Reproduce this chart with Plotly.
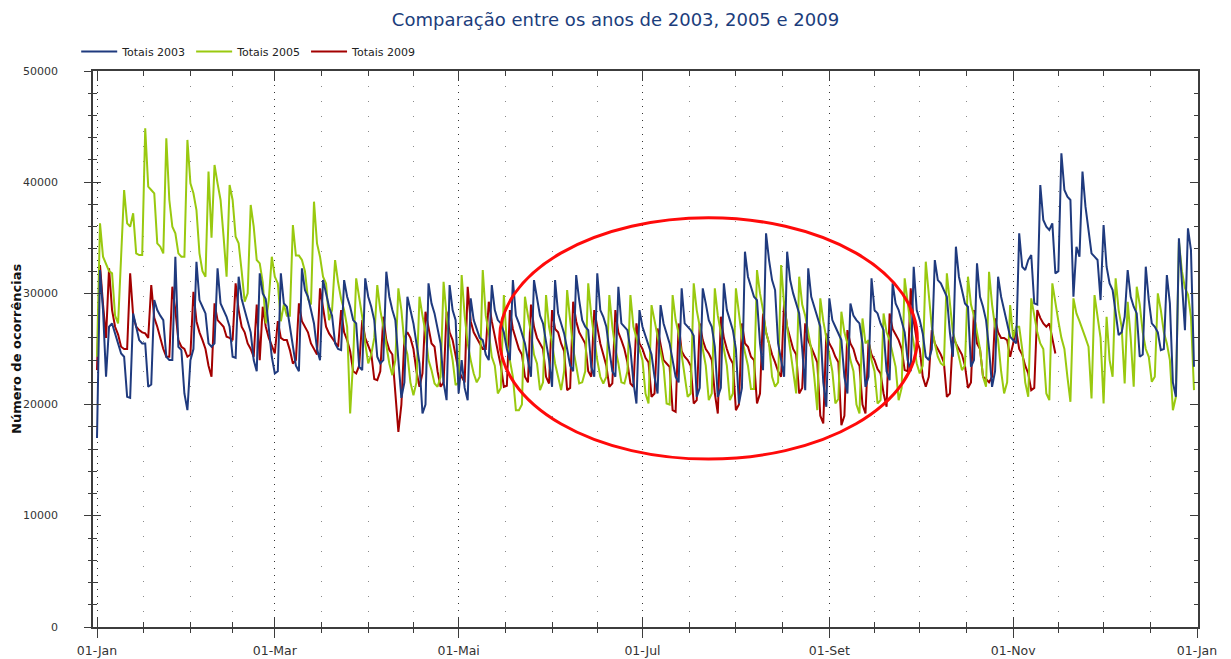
import plotly.graph_objects as go

# ---------------- data (daily totals) ----------------
rotulos_meses = ["01-Jan", "01-Mar", "01-Mai", "01-Jul", "01-Set", "01-Nov", "01-Jan"]
dias_por_mes = [31, 28, 31, 30, 31, 30, 31, 31, 30, 31, 30, 31]
y_ticks = [0, 10000, 20000, 30000, 40000, 50000]
y_rotulos = ["0", "10000", "20000", "30000", "40000", "50000"]

totais_2003 = [
    17000, 32100, 28500, 22500, 27000,
    27300, 26400, 25500, 24600, 24300, 20700, 20600,
    28200, 27000, 25800, 25500, 25500, 21600, 21800,
    29400, 28500, 28000, 27600, 24300, 24000, 24000,
    33300, 25200, 24900, 21000, 19500, 24000, 25000,
    32850, 29400, 28800, 28200, 25500, 25200, 25500,
    32250, 29100, 28500, 27900, 27000, 24300, 24200,
    31500, 29500, 28500, 27500, 26500, 24000, 23000,
    31800, 30000, 29500, 27000, 24300, 22800, 23000,
    31800, 29100, 28800, 27000, 25500, 23500, 23000,
    32250, 30300, 29700, 28500, 27300, 25000, 24000,
    31200, 30000, 28800, 28000, 25500, 25000, 24900,
    31200, 29700, 28800, 27600, 27300, 23400, 23100,
    31350, 29700, 28800, 27600, 24300, 23700, 24000,
    31950, 29700, 28500, 27600, 24000, 20600, 22000,
    29700, 28500, 27300, 25500, 23700, 19200, 20000,
    30900, 29100, 28200, 26700, 25500, 22000, 20400,
    30750, 28500, 27600, 21000, 24000, 21500, 20400,
    29550, 27600, 26700, 26000, 25800, 24500, 24000,
    30750, 28500, 27600, 27300, 26500, 25000, 24000,
    31200, 28000, 27300, 26400, 25500, 24000, 22500,
    31200, 29400, 28000, 27300, 25800, 24000, 21600,
    31200, 28200, 27300, 26400, 25000, 23500, 23000,
    31650, 29400, 27600, 27000, 26700, 23400, 22500,
    31800, 28500, 27900, 27000, 24900, 23000, 22500,
    30600, 27300, 27000, 26700, 25000, 22000, 20100,
    28500, 27000, 26100, 25200, 24500, 22500, 21000,
    28950, 27300, 26400, 25500, 24000, 22500, 22000,
    30450, 27300, 27000, 26700, 26200, 20700, 21500,
    30450, 29100, 27600, 27000, 25200, 20700, 21500,
    30900, 28500, 27600, 26700, 25000, 20100, 21500,
    33750, 31500, 30600, 29700, 29400, 25500, 23100,
    35400, 33000, 31200, 30300, 25500, 24000, 22500,
    33750, 31200, 30000, 29100, 28200, 25000, 21300,
    32250, 29700, 28800, 27900, 27000, 22000, 19800,
    29550, 27600, 27000, 26400, 25800, 22500, 21000,
    29100, 28000, 27600, 27300, 25500, 21600, 22500,
    31350, 28500, 28200, 27300, 26700, 23000, 22200,
    30900, 29100, 28500, 27600, 26500, 24000, 23000,
    32400, 28500, 27600, 26400, 24300, 24000, 25000,
    33000, 31200, 30900, 30300, 29700, 26500, 24300,
    34200, 31500, 30300, 29100, 28800, 23400, 24000,
    32700, 29700, 28800, 27600, 25000, 21600, 23000,
    31500, 29700, 28500, 27300, 26100, 25800, 25500,
    35400, 32400, 32100, 33000, 33450, 29100, 29000,
    39750, 36600, 36000, 35700, 36300, 31800, 32000,
    42600, 39300, 38700, 38400, 29700, 34200, 33300,
    40950, 37800, 35500, 33600, 33300, 33000, 29400,
    36150, 32400, 30900, 30300, 28500, 26250, 26500,
    27900, 32100, 29700, 28800, 28200, 24300, 24500,
    32400, 29400, 27300, 27000, 26500, 24900, 25000,
    31650, 29100, 22000, 20700, 34950, 31000, 26700,
    35850, 33900, 23400,
]

totais_2005 = [
    24300, 36300,
    33300, 32700, 32000, 31800, 28000, 27300, 33600,
    39300, 36300, 36000, 37200, 33600, 33450, 33450,
    44850, 39600, 39300, 39000, 34500, 34200, 33600,
    43950, 38400, 36000, 35400, 33600, 33300, 33300,
    43800, 39900, 39000, 37500, 33600, 32000, 31500,
    40950, 35000, 41550, 39900, 38400, 35100, 31500,
    39750, 38400, 35100, 34500, 32000, 29250, 30000,
    37950, 36000, 33000, 32700, 31000, 27300, 29400,
    33300, 31500, 30900, 27500, 29000, 28000, 28000,
    36150, 33400, 33400, 33000, 32000, 29500, 29000,
    38250, 34500, 33300, 31500, 30900, 27600, 28500,
    33000, 31000, 29500, 28500, 27000, 19200, 24000,
    31350, 29700, 27900, 25500, 23700, 24500, 26000,
    30750, 28500, 27000, 25500, 23700, 22650, 24000,
    30450, 28500, 25500, 24500, 22000, 20850, 22000,
    29700, 28000, 26500, 24000, 23100, 21900, 21600,
    22500, 31050, 28000, 25500, 24000, 21750, 22000,
    31650, 28000, 25500, 24000, 22800, 22000, 22500,
    32100, 28000, 26500, 24300, 23500, 21000, 21500,
    29850, 25500, 24000, 22500, 19500, 19500, 20000,
    29700, 28000, 26500, 24500, 23700, 21300, 22000,
    29850, 27000, 25500, 23700, 22500, 21300, 23000,
    30300, 27600, 25000, 23500, 21900, 22000, 23000,
    30900, 28000, 26000, 24000, 22500, 21900, 22500,
    29850, 27000, 25000, 23700, 22000, 21900, 23000,
    29850, 27000, 26000, 25000, 24000, 21000, 20100,
    28950, 27500, 26000, 24500, 23400, 20100, 20000,
    29850, 27600, 26400, 24500, 23000, 20700, 21000,
    30900, 28500, 27000, 25000, 23500, 20400, 21000,
    30450, 28000, 26500, 25000, 23500, 20400, 21000,
    30450, 28000, 26000, 24700, 23500, 21400, 21400,
    32100, 30000, 28500, 26500, 25500, 22500, 21600,
    22000, 32550, 29000, 27000, 25000, 23500, 21000,
    31500, 29000, 28000, 26500, 25000, 22500, 19500,
    29550, 27500, 26000, 24500, 23000, 20100, 20500,
    28350, 26500, 25500, 24000, 23000, 20000, 19200,
    27750, 25500, 25800, 24000, 23000, 20100, 20400,
    28200, 26500, 25800, 24500, 23400, 20400, 21500,
    31350, 29000, 27000, 25500, 23700, 22800, 23500,
    32850, 30000, 27000, 25500, 24300, 23700, 23500,
    31800, 29000, 26500, 25500, 24300, 23100, 23500,
    31500, 29000, 28000, 26500, 25000, 22500, 21600,
    31950, 29000, 27000, 25800, 23000, 21000, 22000,
    28950, 26000, 27000, 27000, 25000, 22000, 20700,
    29550, 28000, 26500, 25500, 25000, 21000, 20400,
    30900, 29000, 27500, 26000, 25000, 22500, 20250,
    29550, 28200, 27500, 26800, 26000, 25200, 20550,
    29850, 28000, 26000, 20100, 27900, 24000, 22500,
    31350, 28500, 27000, 21900, 29250, 26000, 21600,
    30600, 29000, 26500, 25000, 24300, 22050, 22500,
    30000, 28500, 26500, 25500, 24000, 19500, 20700,
    34650, 32000, 30500, 29900, 27900, 21300,
]

totais_2009 = [
    23100, 32550, 29000, 26000,
    32250, 28500, 27000, 26300, 25200, 25000, 25000,
    31800, 28000, 27000, 26700, 26500, 26400, 26000,
    30750, 27800, 27000, 26000, 25000, 24300, 24300,
    30600, 28500, 25800, 25200, 25000, 24300, 24500,
    30150, 27500, 26500, 25800, 25000, 23500, 22500,
    29100, 27600, 27300, 27000, 26100, 26000, 25800,
    30900, 28500, 27000, 26500, 25500, 25000, 24300,
    29000, 24000, 28800, 27000, 26000, 25200, 24600,
    27500, 26000, 25800, 25800, 24900, 23700, 24000,
    29100, 27500, 27000, 26500, 25500, 25000, 24500,
    30450, 28500, 27000, 26400, 26000, 25600, 25200,
    28500, 26500, 25800, 24800, 23000, 22800, 23500,
    27600, 26000, 25200, 24600, 22300, 22200, 23000,
    27900, 25800, 24900, 24500, 21000, 17550, 20000,
    26000, 26500, 26000, 25000, 23000, 21600, 22800,
    28350, 27000, 25500, 25200, 23000, 21600, 22000,
    28350, 26500, 25800, 24500, 23000, 22500, 22000,
    30600, 27500, 26500, 26000, 25500, 25000, 25000,
    29250, 27500, 26000, 24800, 23500, 21600, 21700,
    28500, 26800, 26000, 25000, 24500, 22500, 22000,
    29000, 27000, 26000, 25500, 25000, 22500, 21900,
    28500, 26800, 26500, 25500, 24800, 21300, 21500,
    29250, 27500, 26500, 26000, 25500, 23000, 22500,
    28500, 27000, 25500, 24500, 23500, 21600, 21900,
    28500, 26500, 25800, 25000, 23800, 21900, 21600,
    27300, 25500, 25000, 24200, 23800, 20700, 21000,
    26850, 25500, 24000, 23700, 23400, 19500, 19350,
    27300, 24800, 24300, 24000, 23500, 20100, 20400,
    27300, 25800, 25000, 24600, 24000, 21000, 19200,
    27900, 26000, 25000, 24200, 23700, 19500, 20000,
    27300, 25500, 25200, 24300, 24000, 20100, 21000,
    28200, 26500, 25500, 24500, 23800, 23000, 22500,
    29250, 27000, 26000, 25000, 24500, 21000, 21500,
    27300, 25800, 25200, 24500, 23800, 19000, 18300,
    26400, 25500, 25000, 24300, 23800, 18150, 19000,
    26700, 25500, 25000, 24000, 23500, 20000, 19200,
    25650, 24500, 24000, 23200, 22800, 21000, 19800,
    28200, 26800, 26300, 25800, 25000, 23100, 23000,
    30450, 27500, 25800, 25000, 22500, 21600, 22500,
    26700, 25500, 25000, 24500, 23800, 20700, 21000,
    26100, 25500, 25000, 24500, 23500, 21500, 22000,
    28500, 25500, 25000, 22500, 22300, 22000, 22500,
    27750, 26500, 26000, 26000, 25800, 24300, 25500,
    26700, 25000, 24500, 23500, 22800, 21300, 21500,
    28500, 27800, 27300, 27000, 27300, 26000, 24600,
]

series = [
    ("Totais 2003", totais_2003, "#1f3a7e"),
    ("Totais 2005", totais_2005, "#99c90f"),
    ("Totais 2009", totais_2009, "#a30000"),
]

# ---------------- axis helpers (positions derived from the calendar) ----------------
inicio_mes = [0]
for n in dias_por_mes:
    inicio_mes.append(inicio_mes[-1] + n)
ticks_maiores = inicio_mes[0::2]
meios = [(a + b) / 2 for a, b in zip(inicio_mes[:-1], inicio_mes[1:])]
ticks_menores = sorted(inicio_mes[1::2] + meios)

PLOT_L, PLOT_R, PLOT_T, PLOT_B = 93, 1198, 71, 627
W, H = 1231, 659
px_por_dia = 1100 / 365.0
x_range = [-4 / px_por_dia, 365 + 1 / px_por_dia]
y_range = [0, 50000]

FONT = "DejaVu Sans"
AXC = "#3c3c3c"
YTICKFONT = dict(family=FONT, size=11, color="#333333")

fig = go.Figure()
# draw 2009 first, 2003 last (on top)
for nome, vals, cor in reversed(series):
    fig.add_trace(go.Scatter(
        x=list(range(len(vals))), y=vals, mode="lines", name=nome,
        line=dict(color=cor, width=2), hoverinfo="skip",
    ))
# empty trace to activate the overlay axes that carry the outer ticks + labels
fig.add_trace(go.Scatter(x=[None], y=[None], xaxis="x2", yaxis="y2",
                         showlegend=False, hoverinfo="skip"))

# y tick labels, right-aligned a fixed distance left of the axis
y_label_x = (60 - PLOT_L) / (PLOT_R - PLOT_L)
anots = [dict(text=t, xref="paper", yref="y", x=y_label_x, y=v,
              xanchor="right", yanchor="middle", showarrow=False, font=YTICKFONT)
         for v, t in zip(y_ticks, y_rotulos)]
anots.append(dict(text="<b>Número de ocorrências</b>", textangle=-90,
                  xref="paper", yref="paper",
                  x=(16 - PLOT_L) / (PLOT_R - PLOT_L), y=0.5,
                  xanchor="center", yanchor="middle", showarrow=False,
                  font=dict(family=FONT, size=13, color="#111111")))

fig.update_layout(
    width=W, height=H,
    margin=dict(l=PLOT_L, r=W - PLOT_R, t=PLOT_T, b=H - PLOT_B, autoexpand=False),
    paper_bgcolor="white", plot_bgcolor="white",
    font=dict(family=FONT, size=12, color="#333333"),
    title=dict(text="Comparação entre os anos de 2003, 2005 e 2009",
               x=0.5, xref="container", xanchor="center",
               y=1 - 20 / H, yref="container", yanchor="middle",
               font=dict(family=FONT, size=18, color="#1b3d7c")),
    legend=dict(orientation="h", traceorder="reversed",
                x=-0.0152, xanchor="left", y=1.035, yanchor="middle",
                font=dict(family=FONT, size=11, color="#222222"),
                bgcolor="rgba(0,0,0,0)", itemwidth=36),
    xaxis=dict(range=x_range, tickmode="array", tickvals=ticks_maiores,
               showticklabels=False, ticks="inside", ticklen=10, tickwidth=1.3,
               tickcolor=AXC, showline=True, linecolor=AXC, linewidth=1.5,
               mirror="ticks", zeroline=False,
               showgrid=True, gridcolor="#333333", gridwidth=1, griddash="1px,6px",
               minor=dict(tickmode="array", tickvals=ticks_menores, ticks="inside",
                          ticklen=5, tickwidth=1.3, tickcolor=AXC,
                          showgrid=True, gridcolor="#8a8a8a", gridwidth=1,
                          griddash="1px,14px")),
    yaxis=dict(range=y_range, tickmode="array", tickvals=y_ticks,
               showticklabels=False, ticks="inside", ticklen=8, tickwidth=1.3,
               tickcolor=AXC, showline=True, linecolor=AXC, linewidth=1.5,
               mirror="ticks", zeroline=False, showgrid=False,
               minor=dict(dtick=2000, ticks="inside", ticklen=4, tickwidth=1.3,
                          tickcolor=AXC, showgrid=False)),
    xaxis2=dict(overlaying="x", anchor="y2", side="bottom", range=x_range,
                tickmode="array", tickvals=ticks_maiores, ticktext=rotulos_meses,
                ticks="outside", ticklen=10, tickwidth=1.3, tickcolor=AXC,
                showline=False, showgrid=False, zeroline=False,
                tickfont=dict(family=FONT, size=12.5, color="#333333"),
                ticklabelstandoff=2,
                minor=dict(tickmode="array", tickvals=ticks_menores, ticks="outside",
                           ticklen=5, tickwidth=1.3, tickcolor=AXC, showgrid=False)),
    yaxis2=dict(overlaying="y", anchor="x2", side="left", range=y_range,
                tickmode="array", tickvals=y_ticks, showticklabels=False,
                ticks="outside", ticklen=8, tickwidth=1.3, tickcolor=AXC,
                showline=False, showgrid=False, zeroline=False,
                minor=dict(dtick=2000, ticks="outside", ticklen=4, tickwidth=1.3,
                           tickcolor=AXC, showgrid=False)),
    annotations=anots,
    shapes=[dict(type="circle", xref="x", yref="y",
                 x0=133.6, x1=272.2, y0=15100, y1=36800,
                 line=dict(color="#ff0a0a", width=3), layer="above")],
)

fig.write_html("out.html",
               config={"displayModeBar": False},
               post_script="document.body.style.margin='0px';"
                           "document.body.style.overflow='hidden';")
